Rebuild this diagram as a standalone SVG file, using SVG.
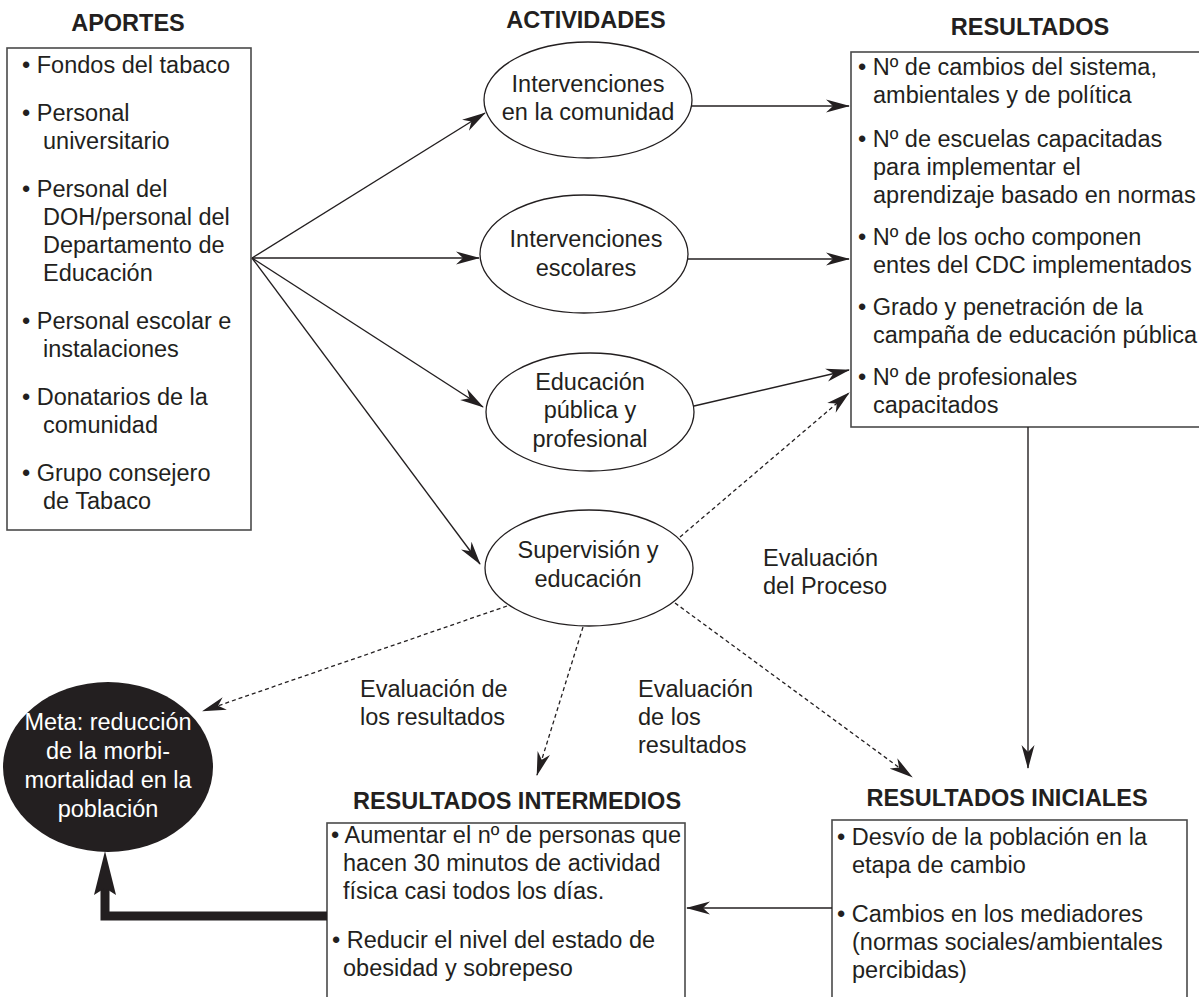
<svg xmlns="http://www.w3.org/2000/svg" width="1199" height="997" viewBox="0 0 1199 997">
<style>
text{font-family:"Liberation Sans",Arial,sans-serif;font-size:23.5px;fill:#231f20}
.t{font-weight:bold}
.c{text-anchor:middle}
.w{fill:#ffffff}
.box{fill:#ffffff;stroke:#4a4a4a;stroke-width:1.6}
.ell{fill:#ffffff;stroke:#231f20;stroke-width:1.3}
.ln{fill:none;stroke:#231f20;stroke-width:1.4}
.ds{fill:none;stroke:#231f20;stroke-width:1.3;stroke-dasharray:4 3}
</style>
<defs>
<marker id="ah" markerUnits="userSpaceOnUse" markerWidth="24" markerHeight="14" viewBox="0 0 24 14" refX="23" refY="7" orient="auto">
<path d="M0,0.5 L24,7 L0,13.5 L7,7 Z" fill="#231f20"/>
</marker>
</defs>
<rect width="1199" height="997" fill="#ffffff"/>

<g id="aportes">
<text class="t c" x="128" y="31">APORTES</text>
<rect class="box" x="7" y="48" width="244" height="482"/>
<text x="22" y="73">• Fondos del tabaco</text>
<text x="22" y="121">• Personal</text>
<text x="43" y="149">universitario</text>
<text x="22" y="197">• Personal del</text>
<text x="43" y="225">DOH/personal del</text>
<text x="43" y="253">Departamento de</text>
<text x="43" y="281">Educación</text>
<text x="22" y="329">• Personal escolar e</text>
<text x="43" y="357">instalaciones</text>
<text x="22" y="405">• Donatarios de la</text>
<text x="43" y="433">comunidad</text>
<text x="22" y="481">• Grupo consejero</text>
<text x="43" y="509">de Tabaco</text>
</g>

<g id="actividades-title">
<text class="t c" x="586" y="28">ACTIVIDADES</text>
</g>

<g id="comunidad">
<ellipse class="ell" cx="588" cy="100" rx="104" ry="58"/>
<text class="c" x="588" y="92">Intervenciones</text>
<text class="c" x="588" y="120">en la comunidad</text>
</g>

<g id="escolares">
<ellipse class="ell" cx="584" cy="254" rx="104" ry="59"/>
<text class="c" x="586" y="247">Intervenciones</text>
<text class="c" x="586" y="276">escolares</text>
</g>

<g id="educacion">
<ellipse class="ell" cx="590" cy="412" rx="104" ry="59"/>
<text class="c" x="590" y="390">Educación</text>
<text class="c" x="590" y="418">pública y</text>
<text class="c" x="590" y="447">profesional</text>
</g>

<g id="supervision">
<ellipse class="ell" cx="589" cy="568" rx="104" ry="58"/>
<text class="c" x="588" y="558">Supervisión y</text>
<text class="c" x="588" y="587">educación</text>
</g>

<g id="resultados">
<text class="t c" x="1030" y="35">RESULTADOS</text>
<rect class="box" x="851" y="52" width="360" height="375"/>
<text x="858" y="75">• Nº de cambios del sistema,</text>
<text x="873" y="103">ambientales y de política</text>
<text x="858" y="147">• Nº de escuelas capacitadas</text>
<text x="873" y="175">para implementar el</text>
<text x="873" y="203">aprendizaje basado en normas</text>
<text x="858" y="245">• Nº de los ocho componen</text>
<text x="873" y="273">entes del CDC implementados</text>
<text x="858" y="315">• Grado y penetración de la</text>
<text x="873" y="343">campaña de educación pública</text>
<text x="858" y="385">• Nº de profesionales</text>
<text x="873" y="413">capacitados</text>
</g>

<g id="meta">
<ellipse cx="108" cy="767" rx="105" ry="85" fill="#231f20"/>
<text class="c w" x="108" y="730">Meta: reducción</text>
<text class="c w" x="108" y="759">de la morbi-</text>
<text class="c w" x="108" y="788">mortalidad en la</text>
<text class="c w" x="108" y="817">población</text>
</g>

<g id="intermedios">
<text class="t c" x="517" y="809">RESULTADOS INTERMEDIOS</text>
<rect class="box" x="327" y="823" width="358" height="190"/>
<text x="331" y="843">• Aumentar el nº de personas que</text>
<text x="343" y="871">hacen 30 minutos de actividad</text>
<text x="343" y="899">física casi todos los días.</text>
<text x="332" y="948">• Reducir el nivel del estado de</text>
<text x="343" y="976">obesidad y sobrepeso</text>
</g>

<g id="iniciales">
<text class="t c" x="1007" y="806">RESULTADOS INICIALES</text>
<rect class="box" x="832" y="820" width="355" height="190"/>
<text x="837" y="845">• Desvío de la población en la</text>
<text x="852" y="873">etapa de cambio</text>
<text x="837" y="922">• Cambios en los mediadores</text>
<text x="852" y="950">(normas sociales/ambientales</text>
<text x="852" y="978">percibidas)</text>
</g>

<g id="labels">
<text x="763" y="566">Evaluación</text>
<text x="763" y="594">del Proceso</text>
<text x="360" y="697">Evaluación de</text>
<text x="360" y="725">los resultados</text>
<text x="638" y="697">Evaluación</text>
<text x="638" y="725">de los</text>
<text x="638" y="753">resultados</text>
</g>

<g id="connectors">
<path class="ln" d="M252,258 L485,113" marker-end="url(#ah)"/>
<path class="ln" d="M252,258 L479,258" marker-end="url(#ah)"/>
<path class="ln" d="M252,258 L483,407" marker-end="url(#ah)"/>
<path class="ln" d="M252,258 L480,564" marker-end="url(#ah)"/>
<path class="ln" d="M692,106 L849,106" marker-end="url(#ah)"/>
<path class="ln" d="M688,259 L849,259" marker-end="url(#ah)"/>
<path class="ln" d="M694,406 L849,370" marker-end="url(#ah)"/>
<path class="ds" d="M680,537 L849,393" marker-end="url(#ah)"/>
<path class="ln" d="M1028,427 L1028,768" marker-end="url(#ah)"/>
<path class="ds" d="M675,603 L912,777" marker-end="url(#ah)"/>
<path class="ds" d="M583,627 L537,775" marker-end="url(#ah)"/>
<path class="ds" d="M507,606 L203,711" marker-end="url(#ah)"/>
<path class="ln" d="M832,908 L687,908" marker-end="url(#ah)"/>
<path d="M327,916 L105,916 L105,886" fill="none" stroke="#231f20" stroke-width="9"/>
<path d="M105,851 L116,895 L105,888 L94,895 Z" fill="#231f20"/>
</g>
</svg>
